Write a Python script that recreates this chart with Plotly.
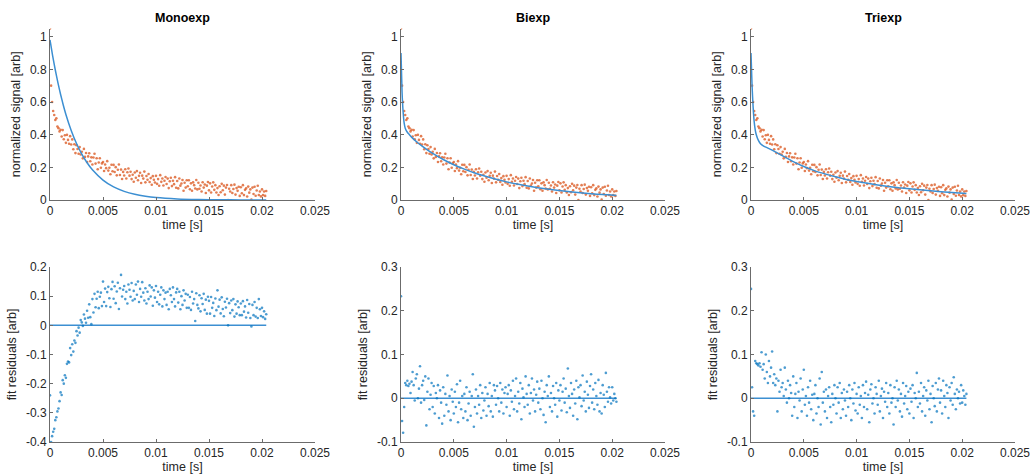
import plotly.graph_objects as go

# ---------------- data (time in ms) ----------------
t_ms = [
    0.0, 0.1, 0.2, 0.3, 0.4, 0.5, 0.6, 0.7, 0.8, 0.9,
    1.0, 1.1, 1.2, 1.3, 1.4, 1.5, 1.6, 1.7, 1.8, 1.9,
    2.0, 2.1, 2.2, 2.3, 2.4, 2.5, 2.6, 2.7, 2.8, 2.9,
    3.0, 3.1, 3.2, 3.3, 3.4, 3.5, 3.6, 3.7, 3.8, 3.9,
    4.0, 4.1, 4.2, 4.3, 4.4, 4.5, 4.6, 4.7, 4.8, 4.9,
    5.0, 5.1, 5.2, 5.3, 5.4, 5.5, 5.6, 5.7, 5.8, 5.9,
    6.0, 6.1, 6.2, 6.3, 6.4, 6.5, 6.6, 6.7, 6.8, 6.9,
    7.0, 7.1, 7.2, 7.3, 7.4, 7.5, 7.6, 7.7, 7.8, 7.9,
    8.0, 8.1, 8.2, 8.3, 8.4, 8.5, 8.6, 8.7, 8.8, 8.9,
    9.0, 9.1, 9.2, 9.3, 9.4, 9.5, 9.6, 9.7, 9.8, 9.9,
    10.0, 10.1, 10.2, 10.3, 10.4, 10.5, 10.6, 10.7, 10.8, 10.9,
    11.0, 11.1, 11.2, 11.3, 11.4, 11.5, 11.6, 11.7, 11.8, 11.9,
    12.0, 12.1, 12.2, 12.3, 12.4, 12.5, 12.6, 12.7, 12.8, 12.9,
    13.0, 13.1, 13.2, 13.3, 13.4, 13.5, 13.6, 13.7, 13.8, 13.9,
    14.0, 14.1, 14.2, 14.3, 14.4, 14.5, 14.6, 14.7, 14.8, 14.9,
    15.0, 15.1, 15.2, 15.3, 15.4, 15.5, 15.6, 15.7, 15.8, 15.9,
    16.0, 16.1, 16.2, 16.3, 16.4, 16.5, 16.6, 16.7, 16.8, 16.9,
    17.0, 17.1, 17.2, 17.3, 17.4, 17.5, 17.6, 17.7, 17.8, 17.9,
    18.0, 18.1, 18.2, 18.3, 18.4, 18.5, 18.6, 18.7, 18.8, 18.9,
    19.0, 19.1, 19.2, 19.3, 19.4, 19.5, 19.6, 19.7, 19.8, 19.9,
    20.0, 20.1, 20.2, 20.3, 20.4,
]

signal = [
    1.05, 0.70, 0.60, 0.545, 0.52, 0.49, 0.50, 0.45, 0.44, 0.42,
    0.43, 0.389, 0.428, 0.372, 0.396, 0.35, 0.399, 0.368, 0.344, 0.391,
    0.34, 0.371, 0.311, 0.341, 0.287, 0.335, 0.312, 0.283, 0.324, 0.279,
    0.295, 0.255, 0.313, 0.264, 0.288, 0.233, 0.267, 0.286, 0.237, 0.261,
    0.217, 0.26, 0.283, 0.223, 0.256, 0.188, 0.23, 0.256, 0.197, 0.224,
    0.232, 0.178, 0.217, 0.195, 0.238, 0.18, 0.197, 0.158, 0.216, 0.176,
    0.215, 0.171, 0.201, 0.151, 0.185, 0.217, 0.153, 0.186, 0.129, 0.172,
    0.15, 0.188, 0.132, 0.17, 0.193, 0.149, 0.173, 0.128, 0.155, 0.112,
    0.168, 0.136, 0.177, 0.121, 0.148, 0.167, 0.104, 0.149, 0.131, 0.174,
    0.108, 0.147, 0.124, 0.159, 0.11, 0.134, 0.093, 0.146, 0.124, 0.107,
    0.148, 0.099, 0.128, 0.087, 0.152, 0.111, 0.132, 0.089, 0.118, 0.141,
    0.098, 0.131, 0.073, 0.115, 0.136, 0.085, 0.118, 0.097, 0.140, 0.075,
    0.116, 0.071, 0.132, 0.088, 0.101, 0.122, 0.057, 0.106, 0.076, 0.121,
    0.084, 0.121, 0.066, 0.102, 0.057, 0.108, 0.091, 0.070, 0.122, 0.065,
    0.106, 0.069, 0.089, 0.052, 0.109, 0.076, 0.095, 0.043, 0.088, 0.11,
    0.059, 0.102, 0.046, 0.083, 0.108, 0.062, 0.091, 0.046, 0.073, 0.031,
    0.084, 0.047, 0.099, 0.06, 0.088, 0.033, 0.076, 0.092, 0.0, 0.069,
    0.052, 0.091, 0.043, 0.067, 0.094, 0.033, 0.073, 0.056, 0.081, 0.025,
    0.078, 0.041, 0.091, 0.03, 0.062, 0.071, 0.021, 0.082, 0.045, 0.065,
    0.002, 0.076, 0.037, 0.081, 0.026, 0.058, 0.087, 0.031, 0.052, 0.022,
    0.065, 0.03, 0.052, 0.025, 0.055,
]

resid_mono = [
    -0.24, -0.40, -0.38, -0.365, -0.355, -0.325, -0.315, -0.295, -0.285, -0.26,
    -0.23, -0.239, -0.188, -0.2, -0.171, -0.18, -0.132, -0.124, -0.127, -0.078,
    -0.102, -0.065, -0.09, -0.052, -0.06, -0.02, -0.035, -0.008, -0.025, 0.018,
    0.01, -0.002, 0.037, 0.023, 0.009, 0.05, 0.026, 0.072, 0.028, 0.004,
    0.09, 0.044, 0.108, 0.062, 0.091, 0.115, 0.059, 0.098, 0.112, 0.066,
    0.15, 0.08, 0.126, 0.066, 0.114, 0.132, 0.093, 0.063, 0.124, 0.149,
    0.091, 0.134, 0.076, 0.116, 0.146, 0.056, 0.127, 0.173, 0.099, 0.122,
    0.135, 0.09, 0.115, 0.075, 0.14, 0.122, 0.098, 0.145, 0.085, 0.118,
    0.09, 0.14, 0.105, 0.15, 0.08, 0.125, 0.098, 0.148, 0.112, 0.085,
    0.127, 0.075, 0.115, 0.09, 0.137, 0.099, 0.13, 0.067, 0.12, 0.095,
    0.135, 0.08, 0.115, 0.072, 0.105, 0.13, 0.065, 0.12, 0.09, 0.112,
    0.07, 0.115, 0.055, 0.125, 0.103, 0.08, 0.13, 0.09, 0.065, 0.113,
    0.125, 0.078, 0.115, 0.055, 0.1, 0.07, 0.12, 0.085, 0.108, 0.06,
    0.105, 0.06, 0.097, 0.053, 0.115, 0.075, 0.09, 0.015, 0.11, 0.07,
    0.058, 0.103, 0.048, 0.093, 0.073, 0.108, 0.053, 0.088, 0.04, 0.098,
    0.084, 0.04, 0.097, 0.06, 0.077, 0.032, 0.092, 0.052, 0.12, 0.064,
    0.088, 0.041, 0.096, 0.056, 0.031, 0.081, 0.061, 0.091, 0.0, 0.076,
    0.042, 0.085, 0.052, 0.09, 0.03, 0.072, 0.04, 0.082, 0.062, 0.035,
    0.075, 0.035, 0.083, 0.047, 0.065, 0.027, 0.087, 0.043, 0.073, 0.025,
    -0.004, 0.07, 0.035, 0.08, 0.03, 0.06, 0.025, 0.09, 0.055, 0.032,
    0.06, 0.028, 0.048, 0.022, 0.038,
]

resid_bi = [
    0.233, -0.052, -0.079, -0.02, 0.035, 0.03, 0.04, 0.028, 0.033, 0.012,
    0.038, 0.06, 0.03, -0.005, 0.045, 0.055, 0.0, 0.022, 0.073, -0.01,
    0.03, 0.04, -0.004, 0.05, -0.062, 0.015, 0.045, -0.025, 0.008, 0.035,
    -0.02, 0.028, -0.035, 0.012, 0.0, 0.03, -0.045, 0.018, -0.01, -0.058,
    0.025, -0.04, 0.01, -0.015, 0.052, -0.03, 0.005, -0.05, 0.02, -0.008,
    -0.035, 0.015, -0.02, 0.032, -0.055, -0.01, 0.04, -0.025, 0.005, -0.045,
    0.01, -0.03, 0.025, -0.05, -0.012, 0.015, -0.04, 0.005, 0.055, -0.065,
    -0.02, 0.02, -0.035, 0.005, -0.015, 0.03, -0.045, 0.012, -0.028, -0.005,
    0.025, -0.04, 0.01, -0.018, 0.035, -0.03, 0.005, -0.042, 0.03, 0.018,
    -0.015, 0.028, 0.0, -0.03, 0.035, -0.01, 0.02, -0.035, 0.012, 0.025,
    -0.02, 0.01, 0.03, -0.04, 0.018, -0.008, 0.04, -0.025, 0.005, 0.045,
    -0.03, 0.015, -0.012, 0.035, -0.048, 0.022, 0.002, -0.02, 0.05, 0.01,
    -0.015, 0.03, -0.035, 0.012, 0.045, -0.005, 0.02, -0.03, 0.008, 0.038,
    -0.01, 0.022, -0.025, 0.04, 0.0, -0.038, 0.015, -0.055, 0.03, 0.005,
    0.05, -0.02, 0.012, -0.03, 0.028, 0.0, -0.015, 0.035, -0.042, 0.018,
    -0.005, 0.03, -0.028, 0.015, 0.045, -0.01, 0.022, -0.032, 0.068, 0.005,
    -0.022, 0.035, 0.01, -0.04, 0.02, -0.012, 0.04, -0.048, 0.025, 0.002,
    0.03, -0.018, 0.052, -0.005, 0.015, -0.03, 0.038, 0.008, -0.022, 0.028,
    0.055, -0.01, 0.02, -0.025, 0.035, 0.005, -0.015, 0.042, -0.03, 0.012,
    -0.035, 0.03, 0.008, -0.02, 0.058, 0.015, -0.008, 0.025, 0.002, -0.012,
    0.025, -0.005, 0.01, 0.0, -0.008,
]

resid_tri = [
    0.25, 0.025, -0.03, -0.04, 0.085, 0.08, 0.078, 0.075, 0.08, 0.072,
    0.105, 0.065, 0.078, 0.045, 0.1, 0.06, 0.035, 0.085, 0.05, 0.07,
    0.107, 0.035, 0.055, 0.03, 0.045, -0.03, 0.04, 0.015, 0.065, 0.025,
    0.035, 0.005, 0.07, 0.02, -0.01, 0.04, 0.0, 0.03, 0.012, -0.04,
    0.05, -0.02, 0.01, 0.035, -0.045, 0.015, -0.005, 0.045, -0.03, 0.02,
    0.065, -0.015, 0.005, -0.04, 0.025, -0.01, 0.04, -0.025, 0.008, -0.05,
    0.01, 0.03, -0.035, 0.0, -0.02, 0.045, -0.06, 0.06, -0.01, 0.015,
    -0.03, 0.02, -0.045, 0.005, 0.025, -0.02, -0.055, 0.01, -0.015, 0.03,
    0.0, -0.035, 0.025, -0.01, 0.035, -0.045, 0.012, -0.025, 0.02, -0.005,
    -0.04, 0.015, -0.02, 0.03, 0.0, -0.05, 0.02, -0.012, 0.035, -0.028,
    0.01, -0.035, 0.025, -0.015, 0.005, -0.045, 0.03, -0.02, 0.012, 0.038,
    -0.025, 0.008, -0.055, 0.02, 0.032, -0.012, 0.0, -0.035, 0.025, 0.01,
    -0.015, 0.04, -0.03, 0.005, 0.022, -0.045, 0.015, -0.008, 0.035, -0.02,
    0.012, -0.035, 0.03, -0.01, 0.0, -0.06, 0.025, -0.02, 0.04, -0.005,
    0.02, -0.03, 0.01, -0.042, 0.035, -0.012, 0.005, 0.028, -0.025, 0.015,
    -0.035, 0.022, -0.008, 0.03, -0.045, 0.012, 0.0, 0.058, -0.02, 0.015,
    -0.012, 0.035, -0.03, 0.005, 0.025, -0.04, 0.018, -0.005, 0.04, -0.025,
    0.01, -0.055, 0.028, 0.0, -0.018, 0.035, -0.03, 0.02, 0.045, -0.01,
    0.018, -0.035, 0.04, 0.005, -0.02, 0.03, 0.012, -0.045, 0.025, -0.005,
    0.035, -0.015, 0.048, 0.01, -0.025, 0.02, 0.0, 0.015, -0.012, 0.03,
    -0.01, 0.018, 0.005, -0.015, 0.01,
]

# fitted curves (read at knots, time in ms)
fit_mono_t_ms = [0, 0.25, 0.5, 0.75, 1.0, 1.25, 1.5, 2.0, 2.5, 3.0, 3.5, 4.0,
                 5.0, 6.0, 7.0, 8.0, 9.0, 10.0, 12.0, 14.0, 16.0, 18.0, 20.4]
fit_mono = [0.98, 0.883, 0.796, 0.717, 0.646, 0.582, 0.524, 0.426, 0.346, 0.281,
            0.228, 0.185, 0.122, 0.080, 0.053, 0.035, 0.023, 0.015, 0.0066,
            0.0029, 0.0013, 0.0005, 0.0002]

fit_bi_t_ms = [0, 0.1, 0.2, 0.3, 0.4, 0.6, 0.8, 1.0, 1.5, 2.0, 3.0, 4.0, 5.0,
               6.0, 7.0, 8.0, 9.0, 10.0, 12.0, 14.0, 16.0, 18.0, 20.4]
fit_bi = [0.90, 0.66, 0.54, 0.47, 0.44, 0.415, 0.40, 0.385, 0.355, 0.33, 0.285,
          0.248, 0.216, 0.189, 0.165, 0.145, 0.127, 0.111, 0.086, 0.066, 0.050,
          0.038, 0.028]

fit_tri_t_ms = [0, 0.05, 0.1, 0.2, 0.3, 0.4, 0.5, 0.7, 0.9, 1.2, 1.6, 2.0, 3.0,
                4.0, 5.0, 6.0, 7.0, 8.0, 9.0, 10.0, 12.0, 14.0, 16.0, 18.0, 20.4]
fit_tri = [0.90, 0.80, 0.70, 0.57, 0.48, 0.43, 0.40, 0.365, 0.345, 0.33, 0.318,
           0.305, 0.27, 0.235, 0.205, 0.18, 0.16, 0.142, 0.126, 0.113, 0.092,
           0.075, 0.062, 0.051, 0.04]

zero_level = 0.0

panel_titles = ["Monoexp", "Biexp", "Triexp"]
x_tickvals = [0, 0.005, 0.01, 0.015, 0.02, 0.025]
x_ticktext = ["0", "0.005", "0.01", "0.015", "0.02", "0.025"]
top_tickvals = [0, 0.2, 0.4, 0.6, 0.8, 1.0]
top_ticktext = ["0", "0.2", "0.4", "0.6", "0.8", "1"]
mono_res_tickvals = [-0.4, -0.3, -0.2, -0.1, 0, 0.1, 0.2]
mono_res_ticktext = ["-0.4", "-0.3", "-0.2", "-0.1", "0", "0.1", "0.2"]
res_tickvals = [-0.1, 0, 0.1, 0.2, 0.3]
res_ticktext = ["-0.1", "0", "0.1", "0.2", "0.3"]

# ---------------- figure ----------------
def s(ms):
    return [v / 1000.0 for v in ms]

t = s(t_ms)
BLUE = "#0072BD"
LINE_BLUE = "#3C8FD2"
RED = "#D95319"
AX = "#6b6b6b"
TXT = "#262626"
FONT = "Liberation Sans, Arial, Helvetica, sans-serif"

fig = go.Figure()

fits = [(fit_mono_t_ms, fit_mono), (fit_bi_t_ms, fit_bi), (fit_tri_t_ms, fit_tri)]
resids = [resid_mono, resid_bi, resid_tri]

for i in range(3):
    xa_top = "x%d" % (i + 1) if i > 0 else "x"
    ya_top = "y%d" % (i + 1) if i > 0 else "y"
    xa_bot = "x%d" % (i + 4)
    ya_bot = "y%d" % (i + 4)
    fig.add_trace(go.Scatter(x=t, y=signal, mode="markers", xaxis=xa_top, yaxis=ya_top,
                             marker=dict(color=RED, size=2.6, opacity=0.75, line=dict(width=0)),
                             showlegend=False, hoverinfo="skip"))
    ft, fv = fits[i]
    fig.add_trace(go.Scatter(x=s(ft), y=fv, mode="lines", xaxis=xa_top, yaxis=ya_top,
                             line=dict(color=LINE_BLUE, width=1.5, shape="spline", smoothing=0.6),
                             showlegend=False, hoverinfo="skip"))
    fig.add_trace(go.Scatter(x=[t[0], t[-1]], y=[zero_level, zero_level], mode="lines",
                             xaxis=xa_bot, yaxis=ya_bot,
                             line=dict(color=LINE_BLUE, width=1.5),
                             showlegend=False, hoverinfo="skip"))
    fig.add_trace(go.Scatter(x=t, y=resids[i], mode="markers", xaxis=xa_bot, yaxis=ya_bot,
                             marker=dict(color=BLUE, size=2.6, opacity=0.7, line=dict(width=0)),
                             showlegend=False, hoverinfo="skip"))

W, H = 1033, 476
x_doms = [[50 / W, 315 / W], [401 / W, 665 / W], [751 / W, 1015 / W]]
top_dom = [1 - 200 / H, 1 - 28.5 / H]
bot_dom = [1 - 442 / H, 1 - 267 / H]

axis_common = dict(showline=True, linecolor=AX, linewidth=1, ticks="inside", ticklen=3,
                   tickcolor=AX, showgrid=False, zeroline=False, mirror=False,
                   tickfont=dict(family=FONT, size=12, color=TXT), automargin=False)

layout = dict(width=W, height=H, autosize=False, margin=dict(l=0, r=0, t=0, b=0),
              paper_bgcolor="white", plot_bgcolor="white",
              font=dict(family=FONT, size=12, color=TXT), showlegend=False)

for i in range(3):
    for row in range(2):
        idx = i + 1 + 3 * row
        xk = "xaxis" if idx == 1 else "xaxis%d" % idx
        yk = "yaxis" if idx == 1 else "yaxis%d" % idx
        ya_name = "y" if idx == 1 else "y%d" % idx
        xa_name = "x" if idx == 1 else "x%d" % idx
        layout[xk] = dict(axis_common, domain=x_doms[i], anchor=ya_name, range=[0, 0.025],
                          tickvals=x_tickvals, ticktext=x_ticktext,
                          title=dict(text="time [s]", standoff=2,
                                     font=dict(family=FONT, size=12.5, color=TXT)))
        if row == 0:
            yr, tv, tt, ytitle, dom = [0, 1.05], top_tickvals, top_ticktext, "normalized signal [arb]", top_dom
        else:
            if i == 0:
                yr, tv, tt = [-0.4, 0.2], mono_res_tickvals, mono_res_ticktext
            else:
                yr, tv, tt = [-0.1, 0.3], res_tickvals, res_ticktext
            ytitle, dom = "fit residuals [arb]", bot_dom
        layout[yk] = dict(axis_common, domain=dom, anchor=xa_name, range=yr,
                          tickvals=tv, ticktext=tt,
                          title=dict(text=ytitle, standoff=6,
                                     font=dict(family=FONT, size=12.5, color=TXT)))

fig.update_layout(**layout)

for i, name in enumerate(panel_titles):
    fig.add_annotation(text="<b>%s</b>" % name, x=(x_doms[i][0] + x_doms[i][1]) / 2,
                       y=1 - 18 / H, xref="paper", yref="paper", showarrow=False,
                       xanchor="center", yanchor="middle",
                       font=dict(family=FONT, size=12.5, color="#000000"))

fig.write_html("out.html")
